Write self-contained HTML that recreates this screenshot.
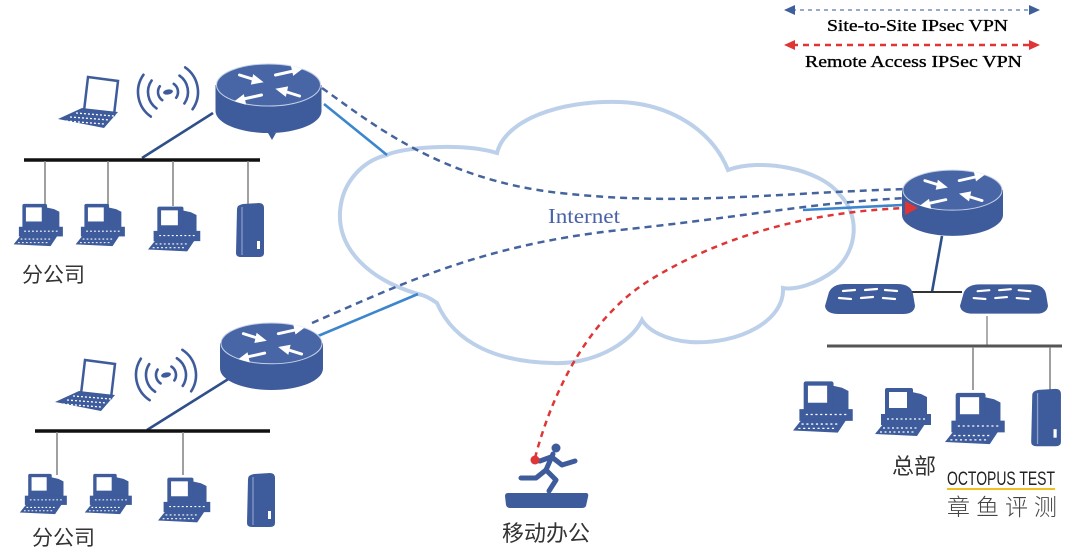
<!DOCTYPE html>
<html><head><meta charset="utf-8"><style>
html,body{margin:0;padding:0;background:#fff;}
svg{display:block;}
</style></head><body>
<svg width="1080" height="554" viewBox="0 0 1080 554" xmlns="http://www.w3.org/2000/svg">
<defs>
  <symbol id="router" viewBox="0 0 106 70">
    <path d="M0,22 L0,48 A53,22 0 0 0 106,48 L106,22 Z" fill="#3e5b9b"/>
    <ellipse cx="53" cy="22" rx="52" ry="21" fill="#4865a6" stroke="#c4d0e8" stroke-width="1"/>
    <g stroke="#fff" stroke-width="3" stroke-linecap="round" fill="#fff">
      <line x1="60" y1="12" x2="78" y2="8"/><polygon points="86,6 76,3 78,12" stroke-width="1"/>
      <line x1="46" y1="32" x2="28" y2="36"/><polygon points="20,38 30,41 28,32" stroke-width="1"/>
      <line x1="24" y1="12" x2="40" y2="17"/><polygon points="47,19 38,12 36,21" stroke-width="1"/>
      <line x1="84" y1="33" x2="68" y2="28"/><polygon points="61,26 70,33 72,24" stroke-width="1"/>
    </g>
  </symbol>
  <symbol id="pc" viewBox="0 0 60 50">
    <polygon points="28,3 46,7 52,10 52,36 28,36" fill="#3e5b9b"/>
    <rect x="10" y="1" width="28" height="28" rx="2" fill="#3e5b9b"/>
    <rect x="14" y="5" width="18" height="16" fill="#fff"/>
    <rect x="6" y="27" width="50" height="11" fill="#3e5b9b"/>
    <polygon points="0,47 8,37 50,37 42,49" fill="#3e5b9b"/>
    <g stroke="#fff" stroke-width="1.2" stroke-dasharray="2 2.5">
      <line x1="8" y1="41" x2="44" y2="41"/><line x1="5" y1="45" x2="40" y2="45"/>
      <line x1="12" y1="32" x2="50" y2="32"/>
    </g>
  </symbol>
  <symbol id="server" viewBox="0 0 32 54">
    <path d="M4,6 Q4,2 10,1 L26,0 Q31,0 31,5 L31,50 Q31,54 26,54 L8,54 Q3,54 3,50 Z" fill="#3e5b9b"/>
    <line x1="9" y1="4" x2="9" y2="52" stroke="#8ea0cc" stroke-width="1.2"/>
    <rect x="24" y="38" width="3" height="8" fill="#fff"/>
  </symbol>
  <symbol id="laptop" viewBox="0 0 62 54">
    <polygon points="30,2 60,6 56,40 26,36" fill="#fff" stroke="#3e5b9b" stroke-width="2.5"/>
    <polygon points="0,44 24,33 60,37 46,53" fill="#3e5b9b"/>
    <g stroke="#fff" stroke-width="1.3" stroke-dasharray="2 2">
      <line x1="12" y1="42" x2="52" y2="45"/><line x1="18" y1="38" x2="56" y2="41"/><line x1="8" y1="46" x2="46" y2="49"/>
    </g>
  </symbol>
  <symbol id="switch" viewBox="0 0 90 34">
    <path d="M4,10 Q8,2 20,2 L72,2 Q86,2 88,12 L90,24 Q89,32 78,32 L14,32 Q1,32 0,24 Z" fill="#3e5b9b"/>
    <g stroke="#fff" stroke-width="2.2" stroke-linecap="round">
      <line x1="18" y1="9" x2="30" y2="8"/><line x1="40" y1="8" x2="52" y2="7"/><line x1="60" y1="8" x2="72" y2="9"/>
      <line x1="14" y1="16" x2="26" y2="17"/><line x1="36" y1="16" x2="48" y2="15"/><line x1="58" y1="16" x2="70" y2="17"/>
    </g>
  </symbol>
  <g id="waves" fill="none" stroke="#3e5b9b" stroke-width="2.6" stroke-linecap="round">
    <path d="M-7.07,-7.07 A10 10 0 0 0 -7.07,7.07"/><path d="M7.07,-7.07 A10 10 0 0 1 7.07,7.07"/>
    <path d="M-14.14,-14.14 A20 20 0 0 0 -14.14,14.14"/><path d="M14.14,-14.14 A20 20 0 0 1 14.14,14.14"/>
    <path d="M-21.21,-21.21 A30 30 0 0 0 -21.21,21.21"/><path d="M21.21,-21.21 A30 30 0 0 1 21.21,21.21"/>
    <ellipse cx="0" cy="0" rx="5" ry="2.5" fill="#3e5b9b" stroke="none"/>
  </g>
</defs>

<!-- Legend -->
<line x1="792" y1="10" x2="1032" y2="10" stroke="#98a9cf" stroke-width="2" stroke-dasharray="4 4"/>
<polygon points="784,10 795,5 795,15" fill="#3f5f9a"/>
<polygon points="1040,10 1029,5 1029,15" fill="#3f5f9a"/>
<text x="827" y="31" font-family="Liberation Serif, serif" font-size="17" fill="#000" stroke="#000" stroke-width="0.35" textLength="181" lengthAdjust="spacingAndGlyphs">Site-to-Site IPsec VPN</text>
<line x1="792" y1="45" x2="1032" y2="45" stroke="#e03535" stroke-width="2.5" stroke-dasharray="6 5"/>
<polygon points="784,45 795,40 795,50" fill="#e03535"/>
<polygon points="1040,45 1029,40 1029,50" fill="#e03535"/>
<text x="805" y="67" font-family="Liberation Serif, serif" font-size="17" fill="#000" stroke="#000" stroke-width="0.35" textLength="217" lengthAdjust="spacingAndGlyphs">Remote Access IPSec VPN</text>

<!-- Cloud -->
<path d="M387,155 C400,148 460,142 497,153 C505,120 560,100 620,102 C670,104 712,130 728,170 C760,158 820,168 840,195 C860,215 858,250 835,270 C815,285 795,290 783,288 C785,320 740,345 690,342 C665,340 648,330 642,320 C630,345 590,365 553,363 C500,362 455,345 437,303 C430,298 424,295 418,294 C370,280 338,250 340,212 C342,180 365,160 387,155 Z" fill="#fff" stroke="#bdd0ea" stroke-width="4"/>
<text x="548" y="223" font-family="Liberation Serif, serif" font-size="21" fill="#4a62a8" textLength="72" lengthAdjust="spacingAndGlyphs">Internet</text>

<!-- VPN lines -->
<path d="M322,88 C370,122 440,180 560,193 S760,194 905,189" fill="none" stroke="#45649e" stroke-width="2.5" stroke-dasharray="7 5"/>
<path d="M312,323 C400,285 480,245 620,230 S800,204 905,198" fill="none" stroke="#45649e" stroke-width="2.5" stroke-dasharray="7 5"/>
<line x1="324" y1="104" x2="387" y2="155" stroke="#3b86cc" stroke-width="2.6"/>
<line x1="318" y1="336" x2="418" y2="294" stroke="#3b86cc" stroke-width="2.6"/>
<line x1="803" y1="210" x2="902" y2="205" stroke="#3b86cc" stroke-width="2.6"/>
<path d="M535,458 C550,400 585,320 650,280 S800,212 906,208" fill="none" stroke="#e03535" stroke-width="2.5" stroke-dasharray="6 5"/>

<!-- Top-left branch -->
<use href="#laptop" x="58" y="75" width="62" height="54"/>
<use href="#waves" transform="translate(168,92) rotate(-10)"/>
<line x1="213" y1="113" x2="142" y2="158" stroke="#2f4f8a" stroke-width="2.6"/>
<use href="#router" x="215" y="63" width="107" height="70"/>
<polygon points="268,133 276,133 272,140" fill="#3e5b9b"/>
<line x1="24" y1="160" x2="260" y2="160" stroke="#111" stroke-width="3.5"/>
<g stroke="#888" stroke-width="1.6">
  <line x1="45" y1="161" x2="45" y2="206"/><line x1="108" y1="161" x2="108" y2="206"/>
  <line x1="173" y1="161" x2="173" y2="206"/><line x1="248" y1="161" x2="248" y2="205"/>
</g>
<use href="#pc" x="13" y="203" width="54" height="44"/>
<use href="#pc" x="74" y="203" width="56" height="44"/>
<use href="#pc" x="148" y="203" width="56" height="52"/>
<use href="#server" x="233" y="203" width="32" height="54"/>
<text x="22" y="282" font-family="Liberation Sans, 'Noto Sans CJK SC', sans-serif" font-size="21" fill="#333">分公司</text>

<!-- Bottom-left branch -->
<use href="#laptop" x="55" y="358" width="62" height="54"/>
<use href="#waves" transform="translate(166,375) rotate(-12)"/>
<line x1="230" y1="378" x2="147" y2="430" stroke="#2f4f8a" stroke-width="2.6"/>
<use href="#router" x="220" y="322" width="103" height="68"/>
<line x1="35" y1="431" x2="270" y2="431" stroke="#111" stroke-width="3.5"/>
<g stroke="#888" stroke-width="1.6">
  <line x1="57" y1="432" x2="57" y2="475"/><line x1="183" y1="432" x2="183" y2="475"/>
</g>
<use href="#pc" x="13" y="473" width="64" height="42"/>
<use href="#pc" x="80" y="473" width="60" height="42"/>
<use href="#pc" x="158" y="473" width="56" height="54"/>
<use href="#server" x="243" y="473" width="34" height="54"/>
<text x="32" y="545" font-family="Liberation Sans, 'Noto Sans CJK SC', sans-serif" font-size="21" fill="#333">分公司</text>

<!-- Right HQ -->
<line x1="942" y1="236" x2="932" y2="292" stroke="#2f4f8a" stroke-width="2.6"/>
<use href="#router" x="902" y="168" width="101" height="69"/>
<polygon points="918,208 905,201 905,215" fill="#e03535"/>
<line x1="912" y1="292" x2="962" y2="292" stroke="#333" stroke-width="2"/>
<use href="#switch" x="825" y="282" width="90" height="34"/>
<use href="#switch" x="960" y="282" width="88" height="34"/>
<line x1="987" y1="316" x2="987" y2="346" stroke="#999" stroke-width="1.6"/>
<line x1="827" y1="346" x2="1062" y2="346" stroke="#555" stroke-width="3"/>
<g stroke="#888" stroke-width="1.6">
  <line x1="973" y1="347" x2="973" y2="390"/><line x1="1050" y1="347" x2="1050" y2="390"/>
</g>
<use href="#pc" x="793" y="377" width="64" height="60"/>
<use href="#pc" x="868" y="387" width="74" height="50"/>
<use href="#pc" x="945" y="387" width="64" height="63"/>
<use href="#server" x="1028" y="387" width="34" height="61"/>
<text x="892" y="474" font-family="Liberation Sans, 'Noto Sans CJK SC', sans-serif" font-size="22" fill="#333">总部</text>

<!-- Watermark -->
<text x="947" y="485" font-family="Liberation Sans, sans-serif" font-size="19" fill="#222" textLength="108" lengthAdjust="spacingAndGlyphs">OCTOPUS TEST</text>
<line x1="947" y1="489" x2="1055" y2="489" stroke="#f0c020" stroke-width="2"/>
<text x="947" y="515" font-family="Liberation Sans, 'Noto Sans CJK SC', sans-serif" font-size="23" font-weight="300" fill="#444" textLength="110" lengthAdjust="spacing">章鱼评测</text>

<!-- Mobile -->
<g stroke="#3e5b9b" stroke-width="5" stroke-linecap="round" stroke-linejoin="round" fill="none">
  <line x1="553" y1="454" x2="546" y2="470"/>
  <polyline points="551,457 540,461 535,460"/>
  <polyline points="553,458 562,465 575,461"/>
  <polyline points="546,470 536,478 521,478"/>
  <polyline points="546,470 556,480 549,491"/>
</g>
<circle cx="556" cy="448" r="4.5" fill="#3e5b9b"/>
<circle cx="535" cy="460" r="4.5" fill="#e03535"/>
<path d="M505,496 Q505,493 508,493 L586,493 Q589,493 588,497 L586,506 Q585,508 582,508 L510,508 Q507,508 506,505 Z" fill="#3e5b9b"/>
<text x="502" y="541" font-family="Liberation Sans, 'Noto Sans CJK SC', sans-serif" font-size="22" fill="#333">移动办公</text>
</svg>
</body></html>
